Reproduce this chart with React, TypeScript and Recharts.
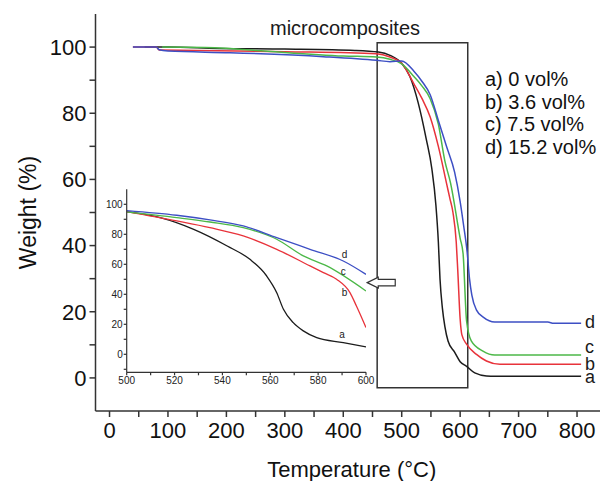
import React from 'react';
import { LineChart, Line, XAxis, YAxis, ReferenceArea, ReferenceDot, Label } from 'recharts';

// ---- data ----
const seriesKeys = ['a', 'b', 'c', 'd'];
const legendLabels = ['a) 0 vol%', 'b) 3.6 vol%', 'c) 7.5 vol%', 'd) 15.2 vol%'];
const seriesColors = ['#1c1c1c', '#e8333b', '#4cb848', '#3d4fc4'];

const tempA = [60, 100, 184, 300, 420, 460, 480, 500, 514, 528, 542, 551.5, 558.5, 562.7, 565.5, 569.6, 573.8, 579.4, 590.5, 600, 611, 625, 645, 660, 807];
const weightA = [100, 100, 99.6, 99.4, 99.0, 98.5, 97.5, 95.1, 91.1, 83.3, 72.2, 63.3, 52.2, 41.1, 30, 21.1, 15.6, 11.1, 7.8, 4.9, 3.5, 1.5, 0.6, 0.5, 0.5];

const tempB = [40, 80, 85, 150, 300, 457, 480, 500, 520.9, 534.8, 548.7, 562.7, 576.6, 582.2, 587.7, 593.3, 596, 600, 603, 611, 628, 645, 668, 807];
const weightB = [100, 100, 99.1, 99.0, 98.6, 98.0, 97.0, 95.1, 88.9, 84.4, 78.9, 70, 58.9, 54.4, 50, 41.1, 32.2, 17.8, 13, 10.2, 7.1, 5.1, 4.1, 4.1];

const tempC = [90, 180, 250, 400, 457, 480, 500, 520.9, 534.8, 548.7, 562.7, 573.8, 583.6, 600, 605, 611, 619, 639, 659, 807];
const weightC = [100, 99.8, 99.0, 97.3, 97.0, 96.3, 94.9, 91.1, 88.2, 84.4, 76.7, 65.6, 58.9, 42.2, 37.6, 17.2, 11.2, 8.1, 6.9, 6.9];

const tempD = [40, 80, 85, 100, 206, 366, 457, 480, 500, 520.9, 534.8, 548.7, 562.7, 576.6, 590.5, 600, 606, 612, 616, 620, 628, 640, 659, 750, 760, 807];
const weightD = [100, 100, 99.2, 98.8, 98.3, 97.1, 96.0, 95.6, 95.8, 92.7, 89.6, 85.6, 77.8, 70, 62.2, 53.3, 46, 38, 30, 25, 20.5, 18.3, 16.9, 16.9, 16.5, 16.5];

const temps = [tempA, tempB, tempC, tempD];
const weights = [weightA, weightB, weightC, weightD];

const mainXTicks = [0, 50, 100, 150, 200, 250, 300, 350, 400, 450, 500, 550, 600, 650, 700, 750, 800, 850];
const mainYTicks = [0, 10, 20, 30, 40, 50, 60, 70, 80, 90, 100];
const insetXTicks = [500, 510, 520, 530, 540, 550, 560, 570, 580, 590, 600];
const insetYTicks = [-10, 0, 10, 20, 30, 40, 50, 60, 70, 80, 90, 100];

// annotation anchors (data coordinates)
const boxT = [458, 613];
const boxW = [-3, 101.3];
const arrowAt = { t: 441, w: 28.8 };
const boxTitleAt = { t: 403, w: 105.8 };
const insetLabelT = [590, 591, 590.5, 591];
const insetLabelW = [13.3, 41.1, 54.9, 66.7];
const endLabelDy = [1, -0.5, -8, -1];

const series = temps.map((ts, i) => ts.map((t, j) => ({ t, w: weights[i][j] })));
const insetSeries = series.map((s) => s.filter((p) => p.t >= 500 && p.t <= 600));

const FONT = '"Liberation Sans", Arial, sans-serif';
const AX = '#333';

const fmt100 = (v: number) => (v % 100 === 0 ? String(v) : '');
const fmt20 = (v: number) => (v % 20 === 0 ? String(v) : '');

const Arrow = (props: any) => {
  const { cx, cy } = props;
  if (cx == null || cy == null) return null;
  const pts = [
    [0, 0], [11, -5.5], [11, -3.3], [28, -3.3], [28, 3.3], [11, 3.3], [11, 5.5],
  ].map(([x, y]) => `${cx + x},${cy + y}`).join(' ');
  return <polygon points={pts} fill="#fff" stroke={AX} strokeWidth={1.2} />;
};

const textAt = (text: string, size: number, dx: number, dy: number, anchor: string) => (props: any) => {
  const vb = props.viewBox || {};
  const x = (vb.x ?? 0) + (vb.width ?? 0) / 2;
  const y = (vb.y ?? 0) + (vb.height ?? 0) / 2;
  return (
    <text x={x + dx} y={y + dy} fontSize={size} fill="#1a1a1a" textAnchor={anchor as any} dominantBaseline="central" fontFamily={FONT}>
      {text}
    </text>
  );
};

export default function App() {
  return (
    <div style={{ position: 'relative', width: 600, height: 473, fontFamily: FONT }}>
      <LineChart width={600} height={473} margin={{ top: 6, right: 0, bottom: 0, left: 0 }}>
        <XAxis
          type="number"
          dataKey="t"
          domain={[-24, 853]}
          allowDataOverflow
          ticks={mainXTicks}
          tickFormatter={fmt100}
          interval={0}
          height={70}
          tickSize={6}
          tickMargin={5}
          stroke={AX}
          strokeWidth={1.5}
          tick={{ fontSize: 22, fill: '#111' }}
        >
          <Label value="Temperature (°C)" position="insideBottom" offset={4} fontSize={22} fill="#111" />
        </XAxis>
        <XAxis xAxisId="top" orientation="top" type="number" domain={[-24, 853]} allowDataOverflow height={0} tick={false} tickLine={false} stroke={AX} strokeWidth={1.5} />
        <YAxis
          type="number"
          domain={[-10, 110]}
          allowDataOverflow
          ticks={mainYTicks}
          tickFormatter={fmt20}
          interval={0}
          width={87.5}
          tickSize={6}
          tickMargin={3}
          stroke={AX}
          strokeWidth={1.5}
          tick={{ fontSize: 22, fill: '#111' }}
        >
          <Label value="Weight (%)" angle={-90} position="insideLeft" offset={20} fontSize={23} fill="#111" style={{ textAnchor: 'middle' }} />
        </YAxis>
        {series.map((s, i) => (
          <Line
            key={seriesKeys[i]}
            data={s}
            dataKey="w"
            type="monotone"
            stroke={seriesColors[i]}
            strokeWidth={1.5}
            dot={false}
            isAnimationActive={false}
          />
        ))}
        <ReferenceArea x1={boxT[0]} x2={boxT[1]} y1={boxW[0]} y2={boxW[1]} fill="none" fillOpacity={0} stroke={AX} strokeWidth={1.5} />
        <ReferenceDot x={boxTitleAt.t} y={boxTitleAt.w} r={0} stroke="none" fill="none" label={{ content: textAt('microcomposites', 20, 0, 0, 'middle') }} />
        <ReferenceDot x={arrowAt.t} y={arrowAt.w} r={0} shape={Arrow} />
        {series.map((s, i) => {
          const last = s[s.length - 1];
          return (
            <ReferenceDot key={'end' + i} x={last.t} y={last.w} r={0} stroke="none" fill="none" label={{ content: textAt(seriesKeys[i], 18, 4, endLabelDy[i], 'start') }} />
          );
        })}
      </LineChart>

      <div style={{ position: 'absolute', left: 477, top: 60, fontSize: 20, lineHeight: '22.7px', color: '#111' }}>
        {legendLabels.map((l) => (
          <div key={l}>{l}</div>
        ))}
      </div>

      <div style={{ position: 'absolute', left: 92, top: 172 }}>
        <LineChart width={275} height={215} margin={{ top: 9.3, right: 9, bottom: 2.7, left: 0 }}>
          <XAxis
            type="number"
            dataKey="t"
            domain={[500, 600]}
            allowDataOverflow
            ticks={insetXTicks}
            tickFormatter={fmt20}
            interval={0}
            height={20}
            tickSize={3}
            tickMargin={2}
            stroke={AX}
            strokeWidth={1.2}
            tick={{ fontSize: 10, fill: '#222' }}
          />
          <XAxis xAxisId="top" orientation="top" type="number" domain={[500, 600]} allowDataOverflow height={0} tick={false} tickLine={false} stroke={AX} strokeWidth={1.2} />
          <YAxis
            type="number"
            domain={[-12, 110]}
            allowDataOverflow
            ticks={insetYTicks}
            tickFormatter={(v: number) => (v >= 0 && v % 20 === 0 ? String(v) : '')}
            interval={0}
            width={26.7}
            tickSize={3}
            tickMargin={1}
            stroke={AX}
            strokeWidth={1.2}
            tick={{ fontSize: 10, fill: '#222' }}
          />
          <YAxis yAxisId="right" orientation="right" type="number" domain={[-12, 110]} allowDataOverflow width={0} tick={false} tickLine={false} stroke={AX} strokeWidth={1.2} />
          {insetSeries.map((s, i) => (
            <Line
              key={'in' + seriesKeys[i]}
              data={s}
              dataKey="w"
              type="monotone"
              stroke={seriesColors[i]}
              strokeWidth={1.3}
              dot={false}
              isAnimationActive={false}
            />
          ))}
          {seriesKeys.map((k, i) => (
            <ReferenceDot key={'il' + k} x={insetLabelT[i]} y={insetLabelW[i]} r={0} stroke="none" fill="none" label={{ content: textAt(k, 10, 0, 0, 'middle') }} />
          ))}
        </LineChart>
      </div>
    </div>
  );
}
